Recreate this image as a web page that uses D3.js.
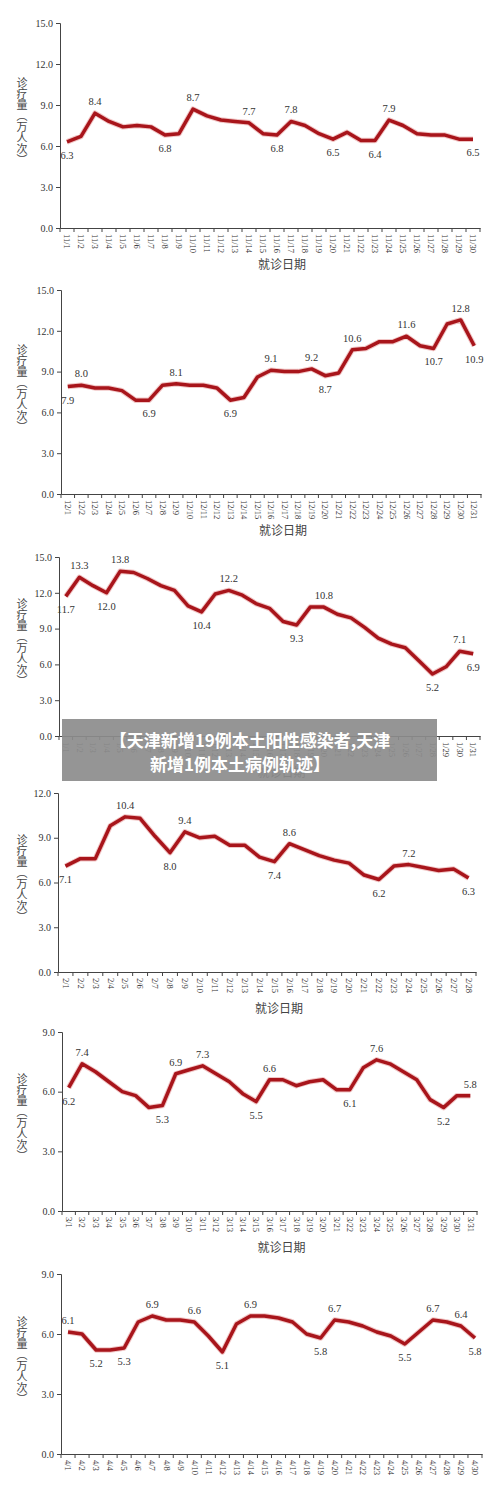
<!DOCTYPE html>
<html><head><meta charset="utf-8">
<script src="https://cdn.jsdelivr.net/npm/d3@7"></script>
<style>body{margin:0;background:#fff}svg{display:block}</style>
</head><body>
<svg id="c" width="500" height="1501"></svg>
<script>
const nov = d3.range(1,31).map(d=>"11/"+d);
const novVals = [6.3,6.7,8.4,7.8,7.4,7.5,7.4,6.8,6.9,8.7,8.2,7.9,7.8,7.7,6.9,6.8,7.8,7.5,6.9,6.5,7.0,6.4,6.4,7.9,7.5,6.9,6.8,6.8,6.5,6.5];
const novLabels = [[1,"b"],[3,"a"],[8,"b"],[10,"a"],[14,"a"],[16,"b"],[17,"a"],[20,"b"],[23,"b"],[24,"a"],[30,"b"]];

const dec = d3.range(1,32).map(d=>"12/"+d);
const decVals = [7.9,8.0,7.8,7.8,7.6,6.9,6.9,8.0,8.1,8.0,8.0,7.8,6.9,7.1,8.6,9.1,9.0,9.0,9.2,8.7,8.9,10.6,10.7,11.2,11.2,11.6,10.9,10.7,12.5,12.8,10.9];
const decLabels = [[1,"b"],[2,"a"],[7,"b"],[9,"a"],[13,"b"],[16,"a"],[19,"a"],[20,"b"],[22,"a"],[26,"a"],[28,"b"],[30,"a"],[31,"b"]];

const jan = d3.range(1,32).map(d=>"1/"+d);
const janVals = [11.7,13.3,12.6,12.0,13.8,13.7,13.2,12.6,12.2,10.9,10.4,11.9,12.2,11.8,11.1,10.7,9.6,9.3,10.8,10.8,10.2,9.9,9.1,8.2,7.7,7.4,6.3,5.2,5.8,7.1,6.9];
const janLabels = [[1,"b"],[2,"a"],[4,"b"],[5,"a"],[11,"b"],[13,"a"],[18,"b"],[20,"a"],[28,"b"],[30,"a"],[31,"b"]];

const feb = d3.range(1,29).map(d=>"2/"+d);
const febVals = [7.1,7.6,7.6,9.8,10.4,10.3,9.1,8.0,9.4,9.0,9.1,8.5,8.5,7.7,7.4,8.6,8.2,7.8,7.5,7.3,6.5,6.2,7.1,7.2,7.0,6.8,6.9,6.3];
const febLabels = [[1,"b"],[5,"a"],[8,"b"],[9,"a"],[15,"b"],[16,"a"],[22,"b"],[24,"a"],[28,"b"]];

const mar = d3.range(1,32).map(d=>"3/"+d);
const marVals = [6.2,7.4,7.0,6.5,6.0,5.8,5.2,5.3,6.9,7.1,7.3,6.9,6.5,5.9,5.5,6.6,6.6,6.3,6.5,6.6,6.1,6.1,7.2,7.6,7.4,7.0,6.6,5.6,5.2,5.8,5.8];
const marLabels = [[1,"b"],[2,"a"],[8,"b"],[9,"a"],[11,"a"],[15,"b"],[16,"a"],[22,"b"],[24,"a"],[29,"b"],[31,"a"]];

const apr = d3.range(1,31).map(d=>"4/"+d);
const aprVals = [6.1,6.0,5.2,5.2,5.3,6.6,6.9,6.7,6.7,6.6,5.9,5.1,6.5,6.9,6.9,6.8,6.6,6.0,5.8,6.7,6.6,6.4,6.1,5.9,5.5,6.1,6.7,6.6,6.4,5.8];
const aprLabels = [[1,"a"],[3,"b"],[5,"b"],[7,"a"],[10,"a"],[12,"b"],[14,"a"],[19,"b"],[20,"a"],[25,"b"],[27,"a"],[29,"a"],[30,"b"]];

const yTicks15 = [0,3,6,9,12,15], yTicks12=[0,3,6,9,12], yTicks9=[0,3,6,9];
const yTitle = "诊疗量（万人次）";
const xTitle = "就诊日期";

const svg = d3.select("#c");
const serif = "'Liberation Serif','DejaVu Serif',serif";
const cjk = "'Noto Sans CJK SC',sans-serif";
const RED = "#a8151b";

function chart(cats, vals, labels, ticks, x0, x1, yBottom, yTop, showXTitle){
  const g = svg.append("g");
  const x = d3.scaleBand().domain(cats).range([x0,x1]);
  const y = d3.scaleLinear().domain([0, ticks[ticks.length-1]]).range([yBottom,yTop]);
  const ya = g.append("g").attr("transform",`translate(${x0},0)`)
    .call(d3.axisLeft(y).tickValues(ticks).tickFormat(d3.format(".1f")).tickSize(4));
  ya.selectAll("text").attr("font-family",serif).attr("font-size",10).attr("fill","#333");
  ya.selectAll("line,path").attr("stroke","#444");
  const xa = g.append("g").attr("transform",`translate(0,${yBottom})`)
    .call(d3.axisBottom(x).tickSize(0).tickSizeOuter(0));
  xa.selectAll("path").attr("stroke","#444");
  xa.selectAll("text").attr("font-family",serif).attr("font-size",8.5).attr("fill","#333")
    .attr("text-anchor","start").attr("dy","0.32em").attr("x",0).attr("y",0)
    .attr("transform","translate(0,6) rotate(90)");
  g.append("g").selectAll("line").data(cats.concat(["__end"])).join("line")
    .attr("x1",(d,i)=>x0+i*x.step()).attr("x2",(d,i)=>x0+i*x.step())
    .attr("y1",yBottom).attr("y2",yBottom+4).attr("stroke","#444");
  const midY = (yBottom+yTop)/2 - 4;
  g.append("text").attr("x",22).attr("y",midY).attr("font-family",cjk).attr("font-size",11)
    .attr("fill","#444").attr("text-anchor","middle").style("writing-mode","vertical-rl")
    .style("letter-spacing","0px").text(yTitle);
  if(showXTitle) g.append("text").attr("x",(x0+x1)/2+12).attr("y",yBottom+41)
    .attr("text-anchor","middle").attr("font-family",cjk).attr("font-size",12).attr("fill","#444").text(xTitle);
  const cx = (d,i)=>x(cats[i])+x.bandwidth()/2;
  const line = d3.line().x(cx).y(d=>y(d));
  g.append("path").datum(vals).attr("d",line).attr("fill","none").attr("stroke","#e8a0a0")
    .attr("stroke-width",5.5).attr("stroke-linejoin","round").attr("opacity",0.6);
  g.append("path").datum(vals).attr("d",line).attr("fill","none").attr("stroke",RED)
    .attr("stroke-width",3.5).attr("stroke-linejoin","round");
  g.append("g").selectAll("text").data(labels).join("text")
    .attr("x",d=>cx(null,d[0]-1)).attr("y",d=>y(vals[d[0]-1])+(d[1]==="a"?-8:17))
    .attr("text-anchor","middle").attr("font-family",serif).attr("font-size",10.5).attr("fill","#333")
    .text(d=>vals[d[0]-1].toFixed(1));
}

chart(nov,novVals,novLabels,yTicks15,60,480,228,23,true);
chart(dec,decVals,decLabels,yTicks15,61,481,494,290,true);
chart(jan,janVals,janLabels,yTicks15,59,480,736,557,true);
chart(feb,febVals,febLabels,yTicks12,58,476,972,793,true);
chart(mar,marVals,marLabels,yTicks9,62,477,1211,1032,true);
chart(apr,aprVals,aprLabels,yTicks9,61,482,1454,1274,false);

svg.append("rect").attr("x",62).attr("y",719).attr("width",375).attr("height",62).attr("fill","#8c8c8c").attr("opacity",0.92);
svg.append("text").attr("x",250).attr("y",747).attr("text-anchor","middle").attr("font-family",cjk)
  .attr("font-weight","bold").attr("font-size",17).attr("fill","#fff").text("【天津新增19例本土阳性感染者,天津");
svg.append("text").attr("x",240).attr("y",771).attr("text-anchor","middle").attr("font-family",cjk)
  .attr("font-weight","bold").attr("font-size",17).attr("fill","#fff").text("新增1例本土病例轨迹】");
</script>
</body></html>
